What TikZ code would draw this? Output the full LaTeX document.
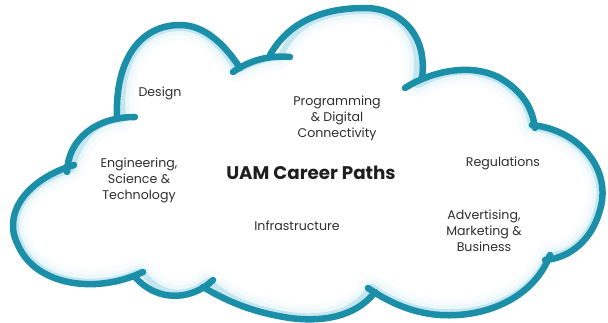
\documentclass[tikz,border=0pt]{standalone}
\usepackage{fontspec}
\setmainfont{Poppins}
\definecolor{teal1}{RGB}{27,143,168}
\definecolor{glow}{RGB}{160,216,232}
\begin{document}
\begin{tikzpicture}[x=1pt,y=-1pt,
  cloudline/.style={draw=teal1,line width=6.5pt,line cap=round,line join=round},
  lbl/.style={align=center,font=\fontsize{12.6}{16}\selectfont,text=black!82,inner sep=0pt},
  ttl/.style={font=\fontsize{18.3}{22}\selectfont\bfseries,text=black!88,inner sep=0pt}]
\useasboundingbox (0,0) rectangle (608,323);
\def\cloudclosed{(140,274) .. controls (95,295) and (35,285) .. (18,245)
  .. controls (2,215) and (25,180) .. (70,167)
  .. controls (75,140) and (95,117) .. (120,117)
  .. controls (115,60) and (140,25) .. (180,25)
  .. controls (205,25) and (225,45) .. (238,67)
  .. controls (255,58) and (268,55) .. (278,55)
  .. controls (292,20) and (325,8) .. (365,8)
  .. controls (400,8) and (428,35) .. (418,82)
  .. controls (440,70) and (470,62) .. (500,78)
  .. controls (520,90) and (532,105) .. (534,125)
  .. controls (580,130) and (612,170) .. (600,210)
  .. controls (592,240) and (570,258) .. (550,258)
  .. controls (535,295) and (490,318) .. (440,315)
  .. controls (410,313) and (385,300) .. (372,290)
  .. controls (355,318) and (320,322) .. (290,318)
  .. controls (250,312) and (225,300) .. (208,284)
  .. controls (190,300) and (160,302) .. (140,274) -- cycle}
% inner glow
\begin{scope}
  \clip \cloudclosed;
  \draw[glow,opacity=0.08,line width=30pt,line join=round] \cloudclosed;
  \draw[glow,opacity=0.12,line width=20pt,line join=round] \cloudclosed;
  \draw[glow,opacity=0.55,line width=12pt,line join=round] \cloudclosed;
\end{scope}
% cloud bumps
\draw[cloudline] (143,272) .. controls (95,295) and (35,285) .. (18,245)
  .. controls (2,215) and (25,180) .. (74,165);
\draw[cloudline] (67,172) .. controls (68,140) and (95,117) .. (135,117);
\draw[cloudline] (117,117) .. controls (115,60) and (140,25) .. (180,25)
  .. controls (205,25) and (225,45) .. (240,68);
\draw[cloudline] (233,72) .. controls (250,60) and (270,55) .. (290,57);
\draw[cloudline] (270,55) .. controls (290,20) and (325,8) .. (365,8)
  .. controls (400,8) and (428,35) .. (422,78);
\draw[cloudline] (405,88) .. controls (430,72) and (470,62) .. (500,78)
  .. controls (520,90) and (532,105) .. (535,128);
\draw[cloudline] (532,125) .. controls (580,130) and (612,170) .. (600,210)
  .. controls (592,240) and (570,258) .. (545,260);
\draw[cloudline] (550,255) .. controls (535,295) and (490,318) .. (440,315)
  .. controls (410,313) and (385,300) .. (368,288);
\draw[cloudline] (375,292) .. controls (355,318) and (320,322) .. (290,318)
  .. controls (250,312) and (225,300) .. (203,287);
\draw[cloudline] (213,280) .. controls (195,298) and (160,305) .. (135,277);
% labels
\node[lbl] (design) at (160,93) {Design};
\node[lbl] (prog) at (337,118) {Programming\\\& Digital\\Connectivity};
\node[ttl] (title) at (311,173) {UAM Career Paths};
\node[lbl] (eng) at (139,180) {Engineering,\\Science \&\\Technology};
\node[lbl] (reg) at (503,163) {Regulations};
\node[lbl] (infra) at (297,226) {Infrastructure};
\node[lbl] (adv) at (484,231) {Advertising,\\Marketing \&\\Business};
\end{tikzpicture}
\end{document}
